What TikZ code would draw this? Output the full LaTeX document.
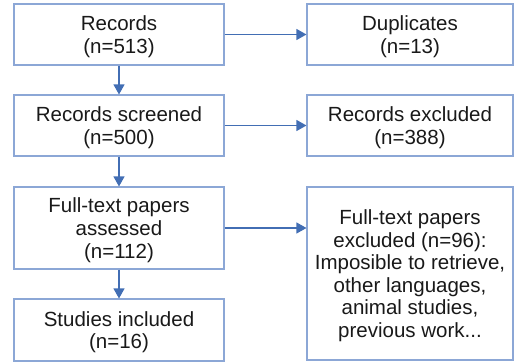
\documentclass[tikz,border=0pt]{standalone}
\usepackage{fontspec}
\setmainfont{Liberation Sans}
\usepackage{tikz}
\usetikzlibrary{arrows.meta, positioning}

\definecolor{boxline}{RGB}{140,167,214}
\definecolor{arrowblue}{RGB}{66,110,180}

\tikzset{
    stagebox/.style={draw=boxline, line width=1.1pt, align=center, inner sep=0pt,
        font=\fontsize{20.5}{22.6}\selectfont, text=black!90, text depth=-2pt},
    flowarrow/.style={draw=arrowblue, line width=1.1pt, -{Triangle[length=10pt,width=11pt]}}
}

\begin{document}
\begin{tikzpicture}[x=1pt, y=1pt]
        \useasboundingbox (0,0) rectangle (515,-364);

        \node[stagebox, minimum width=210pt, minimum height=61pt] (records) at (119,-34.5) {Records\\(n=513)};
        \node[stagebox, minimum width=210pt, minimum height=61pt] (screened) at (119,-125.5) {Records screened\\(n=500)};
        \node[stagebox, minimum width=210pt, minimum height=82pt] (assessed) at (119,-228) {Full-text papers\\assessed\\(n=112)};
        \node[stagebox, minimum width=210pt, minimum height=62pt] (included) at (119,-330) {Studies included\\(n=16)};

        \node[stagebox, minimum width=206pt, minimum height=61pt] (duplicates) at (410,-34.5) {Duplicates\\(n=13)};
        \node[stagebox, minimum width=206pt, minimum height=61pt] (excluded) at (410,-125.5) {Records excluded\\(n=388)};
        \node[stagebox, minimum width=206pt, minimum height=173pt] (ftexcluded) at (410,-273.5) {Full-text papers\\excluded (n=96):\\Imposible to retrieve,\\other languages,\\animal studies,\\previous work...};

        \draw[flowarrow] (records) -- (screened);
        \draw[flowarrow] (screened) -- (assessed);
        \draw[flowarrow] (assessed) -- (included);

        \draw[flowarrow] (records) -- (duplicates);
        \draw[flowarrow] (screened) -- (excluded);
        \draw[flowarrow] (assessed.east) -- (assessed.east -| ftexcluded.west);

    \end{tikzpicture}
\end{document}
